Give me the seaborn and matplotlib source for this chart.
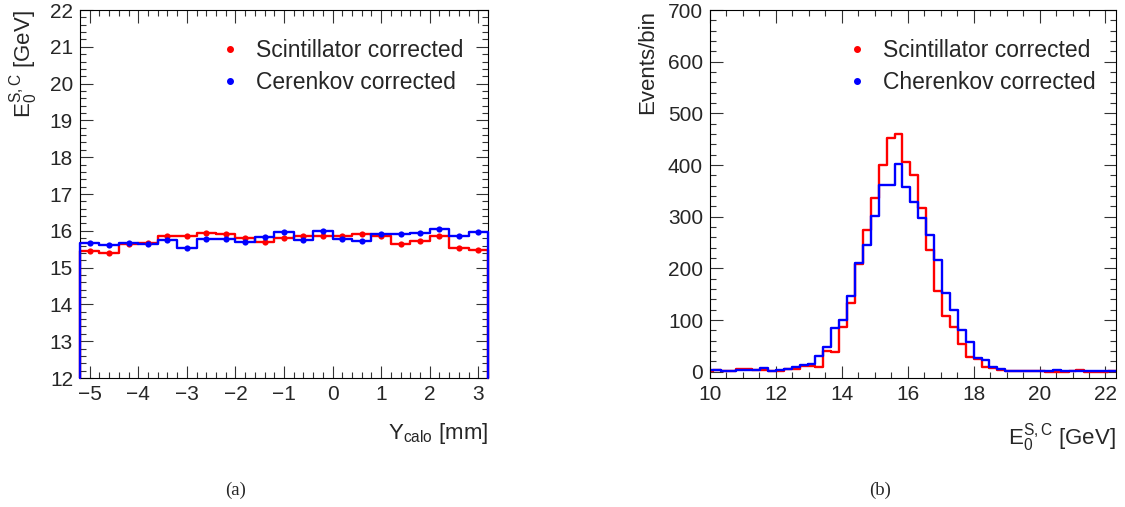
import numpy as np
import pandas as pd
import matplotlib
matplotlib.use("Agg")
import matplotlib.pyplot as plt
from matplotlib.ticker import MultipleLocator
from matplotlib.lines import Line2D
import seaborn as sns

# ---- data ----
# (a) mean energy vs Y_calo, bins of 0.4 mm
y_calo = [-5.0, -4.6, -4.2, -3.8, -3.4, -3.0, -2.6, -2.2, -1.8, -1.4, -1.0,
          -0.6, -0.2, 0.2, 0.6, 1.0, 1.4, 1.8, 2.2, 2.6, 3.0]
e_scint = [15.44, 15.41, 15.64, 15.68, 15.85, 15.85, 15.94, 15.90, 15.81, 15.69, 15.81,
           15.85, 15.86, 15.87, 15.90, 15.87, 15.65, 15.73, 15.85, 15.53, 15.49]
e_cer = [15.66, 15.62, 15.66, 15.64, 15.75, 15.54, 15.77, 15.77, 15.69, 15.83, 15.96,
         15.75, 16.00, 15.78, 15.71, 15.91, 15.92, 15.94, 16.05, 15.85, 15.96]

# (b) energy distributions, bins of 0.24 GeV starting at 9.84
counts_scint = [2, 3, 2, 2, 5, 5, 3, 4, 2, 2, 6, 5, 11, 12, 10, 41, 39, 86, 134, 208,
                274, 337, 400, 452, 461, 406, 380, 316, 235, 156, 107, 86, 54, 29, 24, 10,
                8, 3, 1, 1, 1, 1, 1, 0, 0, 0, 1, 3, 0, 0, 0, 1]
counts_cer = [3, 4, 2, 2, 3, 4, 3, 7, 2, 3, 5, 9, 13, 16, 31, 48, 84, 101, 147, 210,
              245, 302, 361, 362, 403, 357, 329, 298, 264, 217, 153, 119, 81, 58, 26, 22,
              9, 5, 2, 2, 1, 1, 1, 2, 3, 1, 1, 1, 1, 1, 1, 1]

edges_a = [round(-5.2 + 0.4 * i, 3) for i in range(len(y_calo) + 1)]
edges_b = [round(9.84 + 0.24 * i, 3) for i in range(len(counts_scint) + 1)]
centers_b = [(edges_b[i] + edges_b[i + 1]) / 2 for i in range(len(counts_scint))]

sns.set_style("ticks")
plt.rcParams['font.family'] = ['Liberation Sans', 'DejaVu Sans']
plt.rcParams['mathtext.fontset'] = 'custom'
plt.rcParams['mathtext.rm'] = 'Liberation Sans'
plt.rcParams['mathtext.it'] = 'Liberation Sans'

RED = '#ff0000'
BLUE = '#0000ff'
LW = 1.7

fig = plt.figure(figsize=(11.25, 5.07), dpi=100)
ax1 = fig.add_axes([80 / 1125, 1 - 378 / 507, 408 / 1125, 368 / 507])
ax2 = fig.add_axes([710 / 1125, 1 - 378 / 507, 406 / 1125, 368 / 507])


def root_style(ax):
    ax.tick_params(which='both', direction='in', top=True, right=True,
                   labelsize=15, width=0.8, color='#333333')
    ax.tick_params(which='major', length=9, pad=5)
    ax.tick_params(which='minor', length=4.5)
    for s in ax.spines.values():
        s.set_linewidth(0.8)
        s.set_color('black')


# ---- panel (a) ----
df_a = pd.DataFrame({'y': y_calo, 'scint': e_scint, 'cer': e_cer})
for col, c in [('scint', RED), ('cer', BLUE)]:
    sns.histplot(data=df_a, x='y', weights=col, bins=edges_a, element='step',
                 fill=False, color=c, lw=LW, ax=ax1)
    # ROOT draws the outline down to the axis at both ends
    for i in (0, -1):
        ax1.plot([edges_a[i], edges_a[i]], [12, df_a[col].iloc[i]], color=c, lw=LW,
                 clip_on=False, zorder=3 if col == 'cer' else 2.9)
sns.scatterplot(data=df_a, x='y', y='scint', color=RED, s=20, linewidth=0, ax=ax1, zorder=5)
sns.scatterplot(data=df_a, x='y', y='cer', color=BLUE, s=20, linewidth=0, ax=ax1, zorder=5)
ax1.set_xlim(-5.2, 3.2)
ax1.set_ylim(12, 22)
ax1.xaxis.set_major_locator(MultipleLocator(1))
ax1.xaxis.set_minor_locator(MultipleLocator(0.2))
ax1.yaxis.set_major_locator(MultipleLocator(1))
ax1.yaxis.set_minor_locator(MultipleLocator(0.2))
root_style(ax1)
ax1.set_xlabel(r'$\mathregular{Y_{calo}}$ [mm]', fontsize=16, loc='right')
ax1.set_ylabel(r'$\mathregular{E_0^{S,C}}$ [GeV]', fontsize=16, loc='top')
ax1.xaxis.set_label_coords(1.0, -0.116)
ax1.yaxis.set_label_coords(-0.099, 1.0)

# ---- panel (b) ----
df_b = pd.DataFrame({'e': centers_b, 'scint': counts_scint, 'cer': counts_cer})
sns.histplot(data=df_b, x='e', weights='scint', bins=edges_b, element='step',
             fill=False, color=RED, lw=LW, ax=ax2)
sns.histplot(data=df_b, x='e', weights='cer', bins=edges_b, element='step',
             fill=False, color=BLUE, lw=LW, ax=ax2)
ax2.set_xlim(10, 22.32)
ax2.set_ylim(-12, 700)
ax2.xaxis.set_major_locator(MultipleLocator(2))
ax2.xaxis.set_minor_locator(MultipleLocator(0.5))
ax2.yaxis.set_minor_locator(MultipleLocator(20))
ax2.set_yticks([0, 100, 200, 300, 400, 500, 600, 700])
root_style(ax2)
ax2.set_xlabel(r'$\mathregular{E_0^{S,C}}$ [GeV]', fontsize=16, loc='right')
ax2.set_ylabel('Events/bin', fontsize=16, loc='top')
ax2.xaxis.set_label_coords(1.0, -0.116)
ax2.yaxis.set_label_coords(-0.128, 1.0)

# legends
for ax, names, x0 in [(ax1, ['Scintillator corrected', 'Cerenkov corrected'], 0.339),
                      (ax2, ['Scintillator corrected', 'Cherenkov corrected'], 0.334)]:
    handles = [Line2D([], [], marker='o', ls='none', color=c, markersize=4)
               for c in (RED, BLUE)]
    ax.legend(handles, names, loc='upper left', frameon=False, fontsize=16.5,
              handletextpad=0.63, handlelength=1.0, labelspacing=0.42,
              borderpad=0, borderaxespad=0, bbox_to_anchor=(x0, 0.922))

fig.text(236 / 1125, 1 - 490 / 507, '(a)', family='Liberation Serif', fontsize=13.5,
         ha='center', va='center')
fig.text(880 / 1125, 1 - 490 / 507, '(b)', family='Liberation Serif', fontsize=13.5,
         ha='center', va='center')

fig.savefig('out.png', dpi=100)
